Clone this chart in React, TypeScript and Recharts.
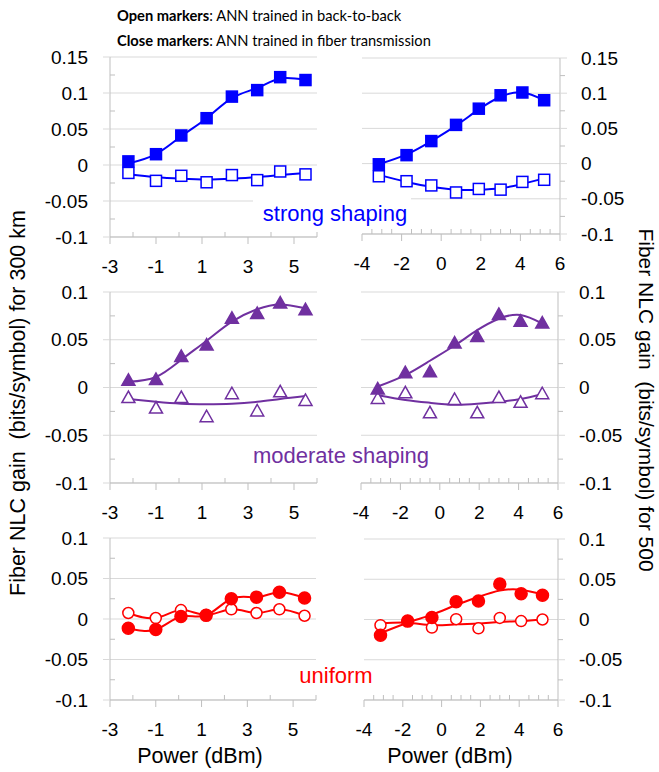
import React from 'react'
import { ComposedChart, Line, XAxis, YAxis, CartesianGrid } from 'recharts'

const W = 659
const H = 772
const AXIS = '#bfbfbf'
const GRID = '#d9d9d9'
const FONT = "'Liberation Sans', Arial, sans-serif"

const BLUE = '#0000ff'
const PURPLE = '#7030a0'
const RED = '#ff0000'

// ─── launch power (dBm) ───
const POWER_300 = [-2.2, -1.0, 0.1, 1.2, 2.3, 3.4, 4.4, 5.5]
const POWER_500 = [-3.15, -1.75, -0.5, 0.75, 1.9, 3.0, 4.1, 5.2]

// ─── strong shaping ───
const STRONG_300_CLOSED = [0.005, 0.015, 0.041, 0.065, 0.095, 0.104, 0.122, 0.118]
const STRONG_300_OPEN = [-0.011, -0.022, -0.015, -0.024, -0.014, -0.021, -0.009, -0.013]
const STRONG_300_CLOSED_FIT = [0.002, 0.015, 0.040, 0.065, 0.093, 0.107, 0.120, 0.118]
const STRONG_300_OPEN_FIT = [-0.013, -0.017, -0.019, -0.020, -0.019, -0.017, -0.014, -0.011]

const STRONG_500_CLOSED = [-0.001, 0.012, 0.032, 0.055, 0.078, 0.097, 0.101, 0.090]
const STRONG_500_OPEN = [-0.018, -0.025, -0.031, -0.041, -0.036, -0.037, -0.026, -0.023]
const STRONG_500_CLOSED_FIT = [-0.001, 0.013, 0.032, 0.054, 0.077, 0.095, 0.101, 0.090]
const STRONG_500_OPEN_FIT = [-0.016, -0.026, -0.033, -0.037, -0.037, -0.035, -0.029, -0.021]

// ─── moderate shaping ───
const MODERATE_300_CLOSED = [0.008, 0.009, 0.033, 0.045, 0.073, 0.078, 0.089, 0.082]
const MODERATE_300_OPEN = [-0.010, -0.021, -0.010, -0.030, -0.006, -0.024, -0.004, -0.013]
const MODERATE_300_CLOSED_FIT = [0.006, 0.011, 0.029, 0.049, 0.069, 0.082, 0.087, 0.083]
const MODERATE_300_OPEN_FIT = [-0.012, -0.015, -0.017, -0.0175, -0.017, -0.015, -0.012, -0.009]

const MODERATE_500_CLOSED = [-0.001, 0.016, 0.017, 0.047, 0.054, 0.077, 0.070, 0.068]
const MODERATE_500_OPEN = [-0.011, -0.005, -0.026, -0.012, -0.026, -0.010, -0.015, -0.006]
const MODERATE_500_CLOSED_FIT = [0.001, 0.013, 0.028, 0.044, 0.060, 0.072, 0.076, 0.067]
const MODERATE_500_OPEN_FIT = [-0.008, -0.013, -0.016, -0.018, -0.017, -0.015, -0.012, -0.007]

// ─── uniform ───
const UNIFORM_300_CLOSED = [-0.0115, -0.013, 0.003, 0.0045, 0.025, 0.027, 0.033, 0.026]
const UNIFORM_300_OPEN = [0.0074, 0.0012, 0.011, 0.005, 0.012, 0.0074, 0.012, 0.004]

const UNIFORM_500_CLOSED = [-0.0195, -0.002, 0.0025, 0.022, 0.023, 0.044, 0.032, 0.030]
const UNIFORM_500_OPEN = [-0.007, -0.002, -0.010, 0.0004, -0.011, 0.002, -0.002, 0.0]
const UNIFORM_500_CLOSED_FIT = [-0.017, -0.004, 0.006, 0.018, 0.028, 0.036, 0.037, 0.031]
const UNIFORM_500_OPEN_FIT = [-0.005, -0.004, -0.007, -0.006, -0.005, -0.003, -0.002, 0.0]

// ─── axes ───
const X_TICKS_300 = [-3, -2, -1, 0, 1, 2, 3, 4, 5, 6]
const X_LABELS_300 = [-3, -1, 1, 3, 5]
const X_TICKS_500 = [-4, -3.5, -3, -2.5, -2, -1.5, -1, -0.5, 0, 0.5, 1, 1.5, 2, 2.5, 3, 3.5, 4, 4.5, 5, 5.5, 6]
const X_LABELS_500 = [-4, -2, 0, 2, 4, 6]
const Y_TICKS_TOP = [-0.1, -0.075, -0.05, -0.025, 0, 0.025, 0.05, 0.075, 0.1, 0.125, 0.15]
const Y_LABELS_TOP = [-0.1, -0.05, 0, 0.05, 0.1, 0.15]
const Y_TICKS_LOW = [-0.1, -0.075, -0.05, -0.025, 0, 0.025, 0.05, 0.075, 0.1]
const Y_LABELS_LOW = [-0.1, -0.05, 0, 0.05, 0.1]

const isMajor = (v: number, labels: number[]) => labels.some(l => Math.abs(l - v) < 1e-9)

function XTick(props: any) {
  const { x, y, payload, labels } = props
  const major = isMajor(payload.value, labels)
  return (
    <g>
      {major
        ? <line x1={x} x2={x} y1={y} y2={y + 7} stroke={AXIS} />
        : <line x1={x} x2={x} y1={y - 5} y2={y} stroke={AXIS} />}
      {major && (
        <text x={x} y={y + 29} dy="0.35em" textAnchor="middle" fontSize={19} fontFamily={FONT} fill="#000">
          {String(payload.value)}
        </text>
      )}
    </g>
  )
}

function YTick(props: any) {
  const { x, y, payload, labels, side } = props
  const major = isMajor(payload.value, labels)
  const left = side === 'left'
  return (
    <g>
      {major
        ? <line x1={x} x2={left ? x - 7 : x + 7} y1={y} y2={y} stroke={GRID} />
        : <line x1={x} x2={x + 5} y1={y} y2={y} stroke={AXIS} />}
      {major && (
        <text
          x={left ? x - 22 : x + 21}
          y={y}
          dy="0.35em"
          textAnchor={left ? 'end' : 'start'}
          fontSize={19}
          fontFamily={FONT}
          fill="#000"
        >
          {String(payload.value)}
        </text>
      )}
    </g>
  )
}

type MarkerShape = 'square' | 'triangle' | 'circle'

function Marker({ cx, cy, shape, color, filled }: any) {
  if (cx == null || cy == null) return <g />
  const fill = filled ? color : '#ffffff'
  if (shape === 'square') {
    return <rect x={cx - 5.5} y={cy - 5.5} width={11} height={11} fill={fill} stroke={color} strokeWidth={1.5} />
  }
  if (shape === 'triangle') {
    return (
      <polygon
        points={`${cx},${cy - 6} ${cx - 6.5},${cy + 5.5} ${cx + 6.5},${cy + 5.5}`}
        fill={fill}
        stroke={color}
        strokeWidth={1.5}
        strokeLinejoin="miter"
      />
    )
  }
  return <circle cx={cx} cy={cy} r={filled ? 6 : 5.5} fill={fill} stroke={color} strokeWidth={1.5} />
}

type Box = { left: number; right: number; top: number; bottom: number }

type PanelProps = {
  power: number[]
  closed: number[]
  open: number[]
  closedFit: number[]
  openFit: number[]
  color: string
  shape: MarkerShape
  side: 'left' | 'right'
  box: Box
  xDomain: [number, number]
  xTicks: number[]
  xLabels: number[]
  yDomain: [number, number]
  yTicks: number[]
  yLabels: number[]
}

function Panel(p: PanelProps) {
  const data = p.power.map((x, i) => ({
    x,
    closed: p.closed[i],
    open: p.open[i],
    closedFit: p.closedFit[i],
    openFit: p.openFit[i],
  }))
  const axisW = 90
  const axisH = 60
  const margin = p.side === 'left'
    ? { left: p.box.left - axisW, right: W - p.box.right, top: p.box.top, bottom: H - p.box.bottom - axisH }
    : { left: p.box.left, right: W - p.box.right - axisW, top: p.box.top, bottom: H - p.box.bottom - axisH }

  return (
    <div style={{ position: 'absolute', left: 0, top: 0, width: W, height: H }}>
      <ComposedChart width={W} height={H} data={data} margin={margin}>
        <CartesianGrid horizontal vertical={false} horizontalValues={p.yLabels} stroke={GRID} />
        <XAxis
          type="number"
          dataKey="x"
          domain={p.xDomain}
          ticks={p.xTicks}
          interval={0}
          allowDataOverflow
          height={axisH}
          tickSize={0}
          tickMargin={0}
          tickLine={false}
          axisLine={{ stroke: AXIS }}
          tick={<XTick labels={p.xLabels} />}
        />
        <YAxis
          type="number"
          orientation={p.side}
          domain={p.yDomain}
          ticks={p.yTicks}
          interval={0}
          allowDataOverflow
          width={axisW}
          tickSize={0}
          tickMargin={0}
          tickLine={false}
          axisLine={{ stroke: AXIS }}
          tick={<YTick labels={p.yLabels} side={p.side} />}
        />
        <Line dataKey="openFit" type="natural" stroke={p.color} strokeWidth={2} dot={false} activeDot={false} isAnimationActive={false} />
        <Line dataKey="closedFit" type="natural" stroke={p.color} strokeWidth={2} dot={false} activeDot={false} isAnimationActive={false} />
        <Line
          dataKey="open"
          stroke="none"
          activeDot={false}
          isAnimationActive={false}
          dot={(d: any) => <Marker key={`o${d.index}`} cx={d.cx} cy={d.cy} shape={p.shape} color={p.color} filled={false} />}
        />
        <Line
          dataKey="closed"
          stroke="none"
          activeDot={false}
          isAnimationActive={false}
          dot={(d: any) => <Marker key={`c${d.index}`} cx={d.cx} cy={d.cy} shape={p.shape} color={p.color} filled />}
        />
      </ComposedChart>
    </div>
  )
}

export default function App() {
  return (
    <div style={{ position: 'absolute', left: 0, top: 0, width: W, height: H, background: '#fff', overflow: 'hidden' }}>
      <Panel
        power={POWER_300} closed={STRONG_300_CLOSED} open={STRONG_300_OPEN}
        closedFit={STRONG_300_CLOSED_FIT} openFit={STRONG_300_OPEN_FIT}
        color={BLUE} shape="square" side="left"
        box={{ left: 110, right: 317, top: 57, bottom: 237 }}
        xDomain={[-3, 6]} xTicks={X_TICKS_300} xLabels={X_LABELS_300}
        yDomain={[-0.1, 0.15]} yTicks={Y_TICKS_TOP} yLabels={Y_LABELS_TOP}
      />
      <Panel
        power={POWER_500} closed={STRONG_500_CLOSED} open={STRONG_500_OPEN}
        closedFit={STRONG_500_CLOSED_FIT} openFit={STRONG_500_OPEN_FIT}
        color={BLUE} shape="square" side="right"
        box={{ left: 362, right: 560, top: 58, bottom: 234 }}
        xDomain={[-4, 6]} xTicks={X_TICKS_500} xLabels={X_LABELS_500}
        yDomain={[-0.1, 0.15]} yTicks={Y_TICKS_TOP} yLabels={Y_LABELS_TOP}
      />
      <Panel
        power={POWER_300} closed={MODERATE_300_CLOSED} open={MODERATE_300_OPEN}
        closedFit={MODERATE_300_CLOSED_FIT} openFit={MODERATE_300_OPEN_FIT}
        color={PURPLE} shape="triangle" side="left"
        box={{ left: 110, right: 317, top: 292, bottom: 483 }}
        xDomain={[-3, 6]} xTicks={X_TICKS_300} xLabels={X_LABELS_300}
        yDomain={[-0.1, 0.1]} yTicks={Y_TICKS_LOW} yLabels={Y_LABELS_LOW}
      />
      <Panel
        power={POWER_500} closed={MODERATE_500_CLOSED} open={MODERATE_500_OPEN}
        closedFit={MODERATE_500_CLOSED_FIT} openFit={MODERATE_500_OPEN_FIT}
        color={PURPLE} shape="triangle" side="right"
        box={{ left: 361, right: 558, top: 292, bottom: 483 }}
        xDomain={[-4, 6]} xTicks={X_TICKS_500} xLabels={X_LABELS_500}
        yDomain={[-0.1, 0.1]} yTicks={Y_TICKS_LOW} yLabels={Y_LABELS_LOW}
      />
      <Panel
        power={POWER_300} closed={UNIFORM_300_CLOSED} open={UNIFORM_300_OPEN}
        closedFit={UNIFORM_300_CLOSED} openFit={UNIFORM_300_OPEN}
        color={RED} shape="circle" side="left"
        box={{ left: 110, right: 316, top: 538, bottom: 700 }}
        xDomain={[-3, 6]} xTicks={X_TICKS_300} xLabels={X_LABELS_300}
        yDomain={[-0.1, 0.1]} yTicks={Y_TICKS_LOW} yLabels={Y_LABELS_LOW}
      />
      <Panel
        power={POWER_500} closed={UNIFORM_500_CLOSED} open={UNIFORM_500_OPEN}
        closedFit={UNIFORM_500_CLOSED_FIT} openFit={UNIFORM_500_OPEN_FIT}
        color={RED} shape="circle" side="right"
        box={{ left: 364, right: 558, top: 539, bottom: 700 }}
        xDomain={[-4, 6]} xTicks={X_TICKS_500} xLabels={X_LABELS_500}
        yDomain={[-0.1, 0.1]} yTicks={Y_TICKS_LOW} yLabels={Y_LABELS_LOW}
      />

      <svg width={W} height={H} style={{ position: 'absolute', left: 0, top: 0, pointerEvents: 'none' }}>
        <text x={117} y={21} fontSize={14.7} fontFamily="Lato, 'Open Sans', sans-serif" fill="#000">
          <tspan fontWeight="bold">Open markers</tspan>: ANN trained in back-to-back
        </text>
        <text x={117} y={46} fontSize={14.7} fontFamily="Lato, 'Open Sans', sans-serif" fill="#000">
          <tspan fontWeight="bold">Close markers</tspan>: ANN trained in fiber transmission
        </text>

        <rect x={253} y={197} width={158} height={31} fill="#fff" />
        <text x={335} y={221} textAnchor="middle" fontSize={22} fontFamily={FONT} fill={BLUE}>strong shaping</text>
        <text x={341} y={463} textAnchor="middle" fontSize={22} fontFamily={FONT} fill={PURPLE}>moderate shaping</text>
        <text x={336} y={683} textAnchor="middle" fontSize={22} fontFamily={FONT} fill={RED}>uniform</text>

        <text x={200} y={763} textAnchor="middle" fontSize={21.5} fontFamily={FONT} fill="#000">Power (dBm)</text>
        <text x={450} y={763} textAnchor="middle" fontSize={21.5} fontFamily={FONT} fill="#000">Power (dBm)</text>

        <text transform="translate(25,403) rotate(-90)" textAnchor="middle" fontSize={21.5} fontFamily={FONT} fill="#000" style={{ whiteSpace: 'pre' }}>
          {'Fiber NLC gain  (bits/symbol) for 300 km'}
        </text>
        <text transform="translate(639,400) rotate(90)" textAnchor="middle" fontSize={21} fontFamily={FONT} fill="#000" style={{ whiteSpace: 'pre' }}>
          {'Fiber NLC gain  (bits/symbol) for 500'}
        </text>
      </svg>
    </div>
  )
}
